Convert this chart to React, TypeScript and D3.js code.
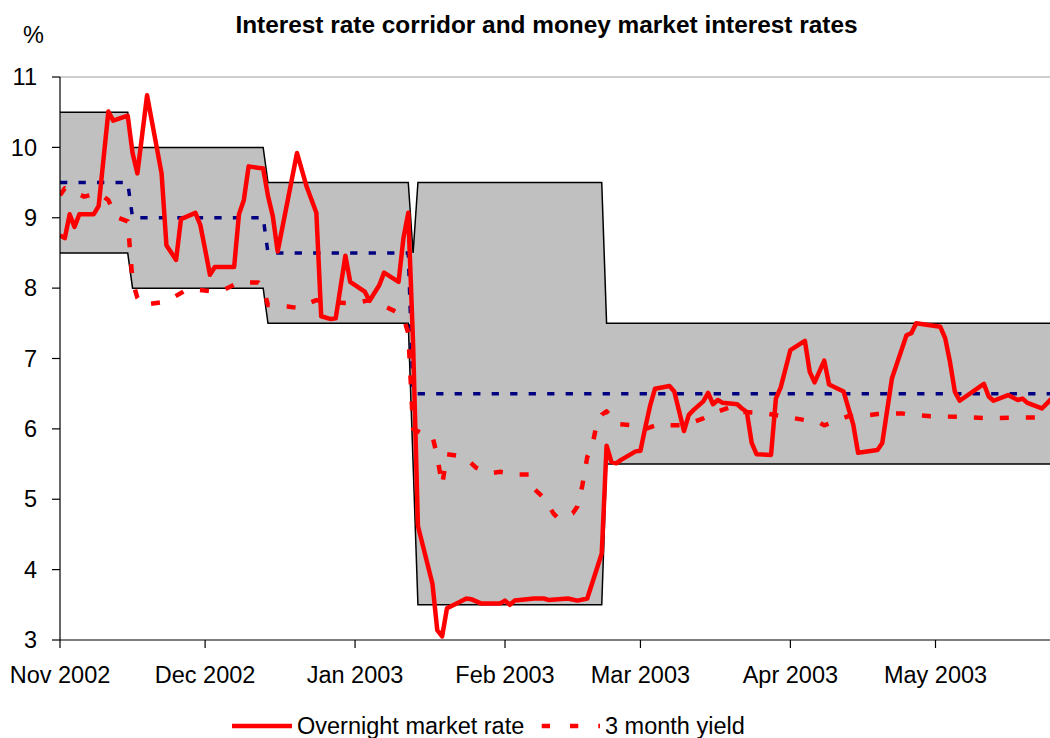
import React from "react";
import * as d3 from "d3";

const TITLE = "Interest rate corridor and money market interest rates";
const Y_UNIT = "%";
const Y_TICKS = [3, 4, 5, 6, 7, 8, 9, 10, 11];
const SERIES_NAMES = ["Overnight market rate", "3 month yield"];

// Interest rate corridor (step changes)
const corridorDates = [
  "2002-11-01", "2002-11-15", "2002-11-16", "2002-12-13", "2002-12-14",
  "2003-01-12", "2003-01-13", "2003-01-14", "2003-02-21", "2003-02-22", "2003-05-25",
];
const upperBound = [10.5, 10.5, 10.0, 10.0, 9.5, 9.5, 8.5, 9.5, 9.5, 7.5, 7.5];
const lowerBound = [8.5, 8.5, 8.0, 8.0, 7.5, 7.5, 5.5, 3.5, 3.5, 5.5, 5.5];
const centralRate = [9.5, 9.5, 9.0, 9.0, 8.5, 8.5, 6.5, 6.5, 6.5, 6.5, 6.5];

const overnightRate: [string, number][] = [
  ["2002-11-01", 8.75], ["2002-11-02", 8.71], ["2002-11-03", 9.05], ["2002-11-04", 8.87],
  ["2002-11-05", 9.05], ["2002-11-08", 9.05], ["2002-11-09", 9.17], ["2002-11-11", 10.51],
  ["2002-11-12", 10.38], ["2002-11-15", 10.45], ["2002-11-16", 9.92], ["2002-11-17", 9.63],
  ["2002-11-19", 10.74], ["2002-11-22", 9.63], ["2002-11-23", 8.61], ["2002-11-25", 8.4],
  ["2002-11-26", 8.98], ["2002-11-29", 9.07], ["2002-11-30", 8.9], ["2002-12-01", 8.55],
  ["2002-12-02", 8.19], ["2002-12-03", 8.3], ["2002-12-07", 8.3], ["2002-12-08", 9.05],
  ["2002-12-09", 9.25], ["2002-12-10", 9.73], ["2002-12-13", 9.7], ["2002-12-14", 9.31],
  ["2002-12-15", 9.02], ["2002-12-16", 8.52], ["2002-12-20", 9.92], ["2002-12-22", 9.44],
  ["2002-12-24", 9.07], ["2002-12-25", 7.6], ["2002-12-27", 7.56], ["2002-12-28", 7.57],
  ["2002-12-30", 8.46], ["2002-12-31", 8.09], ["2003-01-03", 7.95], ["2003-01-04", 7.82],
  ["2003-01-06", 8.04], ["2003-01-07", 8.22], ["2003-01-10", 8.09], ["2003-01-11", 8.71],
  ["2003-01-12", 9.07], ["2003-01-13", 7.2], ["2003-01-14", 4.62], ["2003-01-17", 3.8],
  ["2003-01-18", 3.14], ["2003-01-19", 3.05], ["2003-01-20", 3.45], ["2003-01-22", 3.52],
  ["2003-01-24", 3.59], ["2003-01-25", 3.58], ["2003-01-27", 3.52], ["2003-01-31", 3.52],
  ["2003-02-01", 3.56], ["2003-02-02", 3.5], ["2003-02-03", 3.56], ["2003-02-07", 3.59],
  ["2003-02-09", 3.59], ["2003-02-10", 3.57], ["2003-02-14", 3.59], ["2003-02-16", 3.56],
  ["2003-02-18", 3.59], ["2003-02-21", 4.23], ["2003-02-22", 5.76], ["2003-02-23", 5.53],
  ["2003-02-24", 5.51], ["2003-02-25", 5.56], ["2003-02-28", 5.68], ["2003-03-01", 5.69],
  ["2003-03-02", 6.02], ["2003-03-03", 6.33], ["2003-03-04", 6.57], ["2003-03-07", 6.61],
  ["2003-03-08", 6.53], ["2003-03-09", 6.25], ["2003-03-10", 5.97], ["2003-03-11", 6.2],
  ["2003-03-12", 6.27], ["2003-03-14", 6.39], ["2003-03-15", 6.51], ["2003-03-16", 6.35],
  ["2003-03-17", 6.41], ["2003-03-18", 6.37], ["2003-03-21", 6.35], ["2003-03-22", 6.29],
  ["2003-03-23", 6.24], ["2003-03-24", 5.8], ["2003-03-25", 5.64], ["2003-03-28", 5.63],
  ["2003-03-29", 6.43], ["2003-03-30", 6.59], ["2003-04-01", 7.12], ["2003-04-04", 7.25],
  ["2003-04-05", 6.81], ["2003-04-06", 6.66], ["2003-04-08", 6.97], ["2003-04-09", 6.63],
  ["2003-04-12", 6.53], ["2003-04-14", 6.06], ["2003-04-15", 5.66], ["2003-04-19", 5.7],
  ["2003-04-20", 5.8], ["2003-04-22", 6.72], ["2003-04-25", 7.33], ["2003-04-26", 7.36],
  ["2003-04-27", 7.5], ["2003-05-02", 7.45], ["2003-05-03", 7.29], ["2003-05-04", 6.95],
  ["2003-05-05", 6.53], ["2003-05-06", 6.4], ["2003-05-11", 6.64], ["2003-05-12", 6.46],
  ["2003-05-13", 6.4], ["2003-05-16", 6.48], ["2003-05-18", 6.41], ["2003-05-19", 6.43],
  ["2003-05-20", 6.37], ["2003-05-23", 6.29], ["2003-05-25", 6.43],
];

const threeMonthYield: [string, number][] = [
  ["2002-11-01", 9.32], ["2002-11-02", 9.42], ["2002-11-06", 9.3], ["2002-11-09", 9.35],
  ["2002-11-11", 9.25], ["2002-11-12", 9.1], ["2002-11-13", 9.0], ["2002-11-15", 8.95],
  ["2002-11-16", 8.1], ["2002-11-17", 7.86], ["2002-11-18", 7.76], ["2002-11-22", 7.8],
  ["2002-11-24", 7.85], ["2002-11-27", 7.97], ["2002-11-29", 7.98], ["2002-12-03", 7.95],
  ["2002-12-05", 7.98], ["2002-12-08", 8.08], ["2002-12-12", 8.08], ["2002-12-13", 8.0],
  ["2002-12-14", 7.76], ["2002-12-18", 7.74], ["2002-12-20", 7.72], ["2002-12-24", 7.83],
  ["2002-12-26", 7.8], ["2002-12-30", 7.79], ["2003-01-01", 7.79], ["2003-01-04", 7.83],
  ["2003-01-06", 7.78], ["2003-01-09", 7.68], ["2003-01-10", 7.64], ["2003-01-11", 7.58],
  ["2003-01-12", 7.36], ["2003-01-13", 6.0], ["2003-01-15", 5.93], ["2003-01-17", 5.9],
  ["2003-01-18", 5.6], ["2003-01-19", 5.2], ["2003-01-20", 5.64], ["2003-01-22", 5.62],
  ["2003-01-24", 5.58], ["2003-01-26", 5.45], ["2003-01-29", 5.37], ["2003-01-31", 5.39],
  ["2003-02-04", 5.35], ["2003-02-06", 5.35], ["2003-02-07", 5.15], ["2003-02-09", 5.02],
  ["2003-02-11", 4.8], ["2003-02-12", 4.73], ["2003-02-15", 4.8], ["2003-02-16", 4.9],
  ["2003-02-17", 5.2], ["2003-02-18", 5.6], ["2003-02-19", 5.75], ["2003-02-20", 6.08],
  ["2003-02-21", 6.2], ["2003-02-22", 6.25], ["2003-02-24", 6.07], ["2003-02-28", 6.05],
  ["2003-03-02", 6.0], ["2003-03-05", 6.07], ["2003-03-06", 6.05], ["2003-03-10", 6.05],
  ["2003-03-14", 6.15], ["2003-03-16", 6.22], ["2003-03-20", 6.32], ["2003-03-22", 6.24],
  ["2003-03-27", 6.22], ["2003-04-01", 6.16], ["2003-04-07", 6.09], ["2003-04-08", 6.05],
  ["2003-04-13", 6.18], ["2003-04-15", 6.18], ["2003-04-19", 6.21], ["2003-04-24", 6.22],
  ["2003-04-26", 6.2], ["2003-04-30", 6.18], ["2003-05-06", 6.17], ["2003-05-12", 6.15],
  ["2003-05-17", 6.16], ["2003-05-22", 6.16], ["2003-05-25", 6.2],
];

const X_START = "2002-11-01";
const X_END = "2003-05-25";

const FONT = "'Liberation Sans', Arial, Helvetica, sans-serif";

export default function App() {
  const W = 1050;
  const H = 738;
  const left = 60;
  const top = 77;
  const bottom = 640;
  const pxPerDay = 4.837;

  const parse = d3.timeParse("%Y-%m-%d");
  const x0 = parse(X_START) as Date;
  const x1 = parse(X_END) as Date;
  const days = d3.timeDay.count(x0, x1);
  const x = d3.scaleTime().domain([x0, x1]).range([left, left + days * pxPerDay]);
  const y = d3.scaleLinear().domain([3, 11]).range([bottom, top]);

  const corridor = corridorDates.map((d, i) => ({
    date: parse(d) as Date,
    up: upperBound[i],
    lo: lowerBound[i],
    mid: centralRate[i],
  }));

  const area = d3
    .area<any>()
    .x((d) => x(d.date))
    .y0((d) => y(d.lo))
    .y1((d) => y(d.up));
  const upLine = d3.line<any>().x((d) => x(d.date)).y((d) => y(d.up));
  const loLine = d3.line<any>().x((d) => x(d.date)).y((d) => y(d.lo));
  const midLine = d3.line<any>().x((d) => x(d.date)).y((d) => y(d.mid));

  const seriesLine = d3
    .line<[string, number]>()
    .x((d) => x(parse(d[0]) as Date))
    .y((d) => y(d[1]));

  const months = d3.timeMonth.range(x0, d3.timeDay.offset(x1, 1));
  const fmt = d3.timeFormat("%b %Y");
  const right = Math.min(W, x.range()[1]);

  return (
    <svg
      width={W}
      height={H}
      style={{ position: "absolute", left: 0, top: 0, background: "#fff" }}
      fontFamily={FONT}
    >
      <defs>
        <clipPath id="plotClip">
          <rect x={left} y={top - 10} width={x.range()[1] - left} height={bottom - top + 20} />
        </clipPath>
      </defs>

      <text x={546.5} y={33} textAnchor="middle" fontSize={24.4} fontWeight="bold" fill="#000">
        {TITLE}
      </text>
      <text x={23} y={43} fontSize={23.5} fill="#000">
        {Y_UNIT}
      </text>

      {/* plot area top border */}
      <line x1={left} x2={right} y1={top} y2={top} stroke="#a0a0a0" strokeWidth={1.2} />

      <g clipPath="url(#plotClip)">
        <path d={area(corridor) || ""} fill="#c0c0c0" />
        <path d={upLine(corridor) || ""} fill="none" stroke="#000" strokeWidth={1.5} />
        <path d={loLine(corridor) || ""} fill="none" stroke="#000" strokeWidth={1.5} />
        <path
          d={midLine(corridor) || ""}
          fill="none"
          stroke="#000080"
          strokeWidth={3.5}
          strokeDasharray="7.3,11.2"
        />
        <path
          d={seriesLine(threeMonthYield) || ""}
          fill="none"
          stroke="#ff0000"
          strokeWidth={4.5}
          strokeDasharray="9,17"
          strokeLinejoin="round"
        />
        <path
          d={seriesLine(overnightRate) || ""}
          fill="none"
          stroke="#ff0000"
          strokeWidth={4.5}
          strokeLinejoin="round"
        />
      </g>

      {/* y axis */}
      <line x1={left} x2={left} y1={top} y2={bottom} stroke="#000" strokeWidth={1.2} />
      {Y_TICKS.map((t) => (
        <g key={t}>
          <line x1={left - 8} x2={left} y1={y(t)} y2={y(t)} stroke="#000" strokeWidth={1.2} />
          <text x={37} y={y(t)} dy="0.35em" textAnchor="end" fontSize={23.5} fill="#000">
            {t}
          </text>
        </g>
      ))}

      {/* x axis */}
      <line x1={left} x2={right} y1={bottom} y2={bottom} stroke="#000" strokeWidth={1.2} />
      {months.map((m) => (
        <g key={m.toISOString()}>
          <line x1={x(m)} x2={x(m)} y1={bottom} y2={bottom + 8} stroke="#000" strokeWidth={1.2} />
          <text x={x(m)} y={683} textAnchor="middle" fontSize={23.5} fill="#000">
            {fmt(m)}
          </text>
        </g>
      ))}

      {/* legend */}
      <line x1={232} x2={292} y1={726} y2={726} stroke="#ff0000" strokeWidth={4.5} />
      <text x={297} y={734} fontSize={23.5} fill="#000">
        {SERIES_NAMES[0]}
      </text>
      <line
        x1={541.7}
        x2={600}
        y1={726}
        y2={726}
        stroke="#ff0000"
        strokeWidth={4.5}
        strokeDasharray="8.3,20"
      />
      <text x={605} y={734} fontSize={23.5} fill="#000">
        {SERIES_NAMES[1]}
      </text>
    </svg>
  );
}
